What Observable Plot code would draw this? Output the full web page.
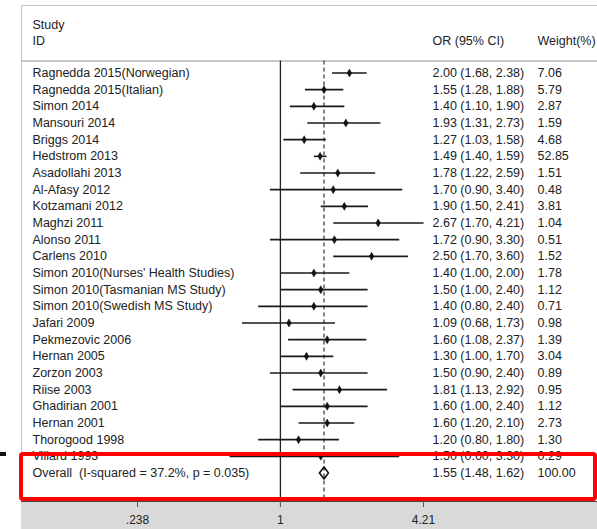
<!DOCTYPE html>
<html><head><meta charset="utf-8">
<script src="https://cdn.jsdelivr.net/npm/d3@7"></script>
<script src="https://cdn.jsdelivr.net/npm/@observablehq/plot@0.6"></script>
<style>
body{margin:0;background:#fff;}
#wrap{position:relative;width:597px;height:529px;overflow:hidden;}
#gray{position:absolute;left:21px;top:501px;width:576px;height:28px;background:#d9d9d9;}
#mark{position:absolute;left:0;top:452px;width:6px;height:4px;background:#111;}
#chart{position:absolute;left:0;top:0;}
#chart svg text{font-family:"Liberation Sans", Arial, sans-serif;}
</style></head><body>
<div id="wrap"><div id="gray"></div><div id="chart"></div><div id="mark"></div></div>
<script>
const studies = [
  "Ragnedda 2015(Norwegian)", "Ragnedda 2015(Italian)", "Simon 2014", "Mansouri 2014",
  "Briggs 2014", "Hedstrom 2013", "Asadollahi 2013", "Al-Afasy 2012", "Kotzamani 2012",
  "Maghzi 2011", "Alonso 2011", "Carlens 2010", "Simon 2010(Nurses' Health Studies)",
  "Simon 2010(Tasmanian MS Study)", "Simon 2010(Swedish MS Study)", "Jafari 2009",
  "Pekmezovic 2006", "Hernan 2005", "Zorzon 2003", "Riise 2003", "Ghadirian 2001",
  "Hernan 2001", "Thorogood 1998", "Villard 1993"
];
const oddsRatios = [2.00,1.55,1.40,1.93,1.27,1.49,1.78,1.70,1.90,2.67,1.72,2.50,1.40,1.50,1.40,1.09,1.60,1.30,1.50,1.81,1.60,1.60,1.20,1.50];
const ciLow      = [1.68,1.28,1.10,1.31,1.03,1.40,1.22,0.90,1.50,1.70,0.90,1.70,1.00,1.00,0.80,0.68,1.08,1.00,0.90,1.13,1.00,1.20,0.80,0.60];
const ciHigh     = [2.38,1.88,1.90,2.73,1.58,1.59,2.59,3.40,2.41,4.21,3.30,3.60,2.00,2.40,2.40,1.73,2.37,1.70,2.40,2.92,2.40,2.10,1.80,3.30];
const weights    = [7.06,5.79,2.87,1.59,4.68,52.85,1.51,0.48,3.81,1.04,0.51,1.52,1.78,1.12,0.71,0.98,1.39,3.04,0.89,0.95,1.12,2.73,1.30,0.29];

const overallLabel = "Overall\u00a0 (I-squared = 37.2%, p = 0.035)";
const overallOR = 1.55, overallLow = 1.48, overallHigh = 1.62, overallWeight = 100.00;

const xTicks = [0.238, 1, 4.21];
const xTickLabels = [".238", "1", "4.21"];

const fmt = d3.format(".2f");
const ciText = (o, l, h) => `${fmt(o)} (${fmt(l)}, ${fmt(h)})`;

const rows = studies.map((s, i) => ({
  row: i, study: s, or: oddsRatios[i], lo: ciLow[i], hi: ciHigh[i],
  ci: ciText(oddsRatios[i], ciLow[i], ciHigh[i]), w: fmt(weights[i])
}));
const overallRow = studies.length;
const overall = [{row: overallRow, study: overallLabel, ci: ciText(overallOR, overallLow, overallHigh), w: fmt(overallWeight)}];
const diamond = [
  {x: overallLow, y: overallRow}, {x: overallOR, y: overallRow - 0.36},
  {x: overallHigh, y: overallRow}, {x: overallOR, y: overallRow + 0.36},
  {x: overallLow, y: overallRow}
];
const headerLeft = [{y: -2.9, t: "Study"}, {y: -1.95, t: "ID"}];
const headerY = -0.72, axisY = 25.7;
const box = [{y1: 22.89, y2: 25.59}];
const font = "Liberation Sans, Arial, sans-serif";

const chart = Plot.plot({
  width: 597, height: 529,
  marginLeft: 21, marginRight: 0, marginTop: 5, marginBottom: 28,
  style: {background: "transparent", fontFamily: font, fontSize: "12.5px", color: "#222"},
  x: {type: "log", domain: [0.238, 4.21], range: [137, 423]},
  y: {domain: [0, 24], range: [72.5, 472.5], axis: null},
  marks: [
    Plot.frame({fill: "white", stroke: "#c4c4c4"}),
    Plot.ruleY([headerY], {stroke: "#b5b5b5", strokeWidth: 1.5}),
    Plot.ruleX([1], {y1: headerY, y2: axisY, stroke: "#222", strokeWidth: 1.3}),
    Plot.ruleX([overallOR], {y1: headerY, y2: axisY, stroke: "#333", strokeDasharray: "4,3", strokeWidth: 1.2}),
    Plot.link(rows, {x1: "lo", x2: "hi", y1: "row", y2: "row", stroke: "#1a1a1a", strokeWidth: 1.6}),
    Plot.dot(rows, {x: "or", y: "row", symbol: "diamond", r: 2.4, fill: "#111", stroke: "#111", strokeWidth: 0.5}),
    Plot.line(diamond, {x: "x", y: "y", stroke: "#111", strokeWidth: 1.6}),
    Plot.text(headerLeft, {y: "y", text: "t", frameAnchor: "left", dx: 11, textAnchor: "start", fill: "#222", fontFamily: font, fontSize: 12.5}),
    Plot.text(["OR (95% CI)"], {y: () => -1.95, text: d => d, frameAnchor: "left", dx: 411, textAnchor: "start", fill: "#222", fontFamily: font, fontSize: 12.5}),
    Plot.text(["Weight(%)"], {y: () => -1.95, text: d => d, frameAnchor: "left", dx: 516, textAnchor: "start", fill: "#222", fontFamily: font, fontSize: 12.5}),
    Plot.text(rows.concat(overall), {y: "row", text: "study", frameAnchor: "left", dx: 11, textAnchor: "start", fill: "#222", fontFamily: font, fontSize: 12.5}),
    Plot.text(rows.concat(overall), {y: "row", text: "ci", frameAnchor: "left", dx: 411, textAnchor: "start", fill: "#222", fontFamily: font, fontSize: 12.5}),
    Plot.text(rows.concat(overall), {y: "row", text: "w", frameAnchor: "left", dx: 516, textAnchor: "start", fill: "#222", fontFamily: font, fontSize: 12.5}),
    Plot.frame({anchor: "bottom", stroke: "#444"}),
    Plot.axisX({ticks: xTicks, tickFormat: d => xTickLabels[xTicks.indexOf(d)], tickSize: 6, tickPadding: 8, anchor: "bottom", stroke: "#555", fill: "#222", fontSize: 12}),
    Plot.rect(box, {y1: "y1", y2: "y2", stroke: "#ff0000", strokeWidth: 4, fill: "none", insetRight: 2, rx: 2})
  ]
});
document.getElementById("chart").appendChild(chart);
</script>
</body></html>
